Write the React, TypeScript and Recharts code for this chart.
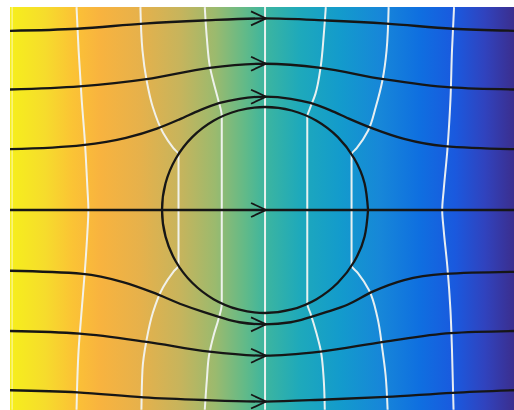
import React from 'react';
import { ComposedChart, Line, XAxis, YAxis, ReferenceArea } from 'recharts';

// plot window (cylinder radius = 1)
const X_MIN = -2.476;
const X_MAX = 2.417;
const Y_MIN = -1.942;
const Y_MAX = 1.971;

// streamlines, top to bottom
const stream1 = [
  { x: -2.48, y: 1.74 }, { x: -1.82, y: 1.76 }, { x: -1.18, y: 1.81 }, { x: -0.6, y: 1.84 },
  { x: 0, y: 1.86 }, { x: 0.6, y: 1.84 }, { x: 1.18, y: 1.81 }, { x: 1.82, y: 1.76 }, { x: 2.42, y: 1.74 },
];
const stream2 = [
  { x: -2.48, y: 1.17 }, { x: -1.8, y: 1.2 }, { x: -1.15, y: 1.27 }, { x: -0.54, y: 1.38 },
  { x: 0, y: 1.42 }, { x: 0.54, y: 1.38 }, { x: 1.15, y: 1.27 }, { x: 1.8, y: 1.19 }, { x: 2.42, y: 1.17 },
];
const stream3 = [
  { x: -2.48, y: 0.59 }, { x: -1.77, y: 0.63 }, { x: -1.35, y: 0.7 }, { x: -1.05, y: 0.79 },
  { x: -0.83, y: 0.88 }, { x: -0.63, y: 0.97 }, { x: -0.44, y: 1.04 }, { x: -0.25, y: 1.08 },
  { x: 0, y: 1.1 }, { x: 0.25, y: 1.08 }, { x: 0.44, y: 1.04 }, { x: 0.63, y: 0.97 },
  { x: 0.83, y: 0.88 }, { x: 1.05, y: 0.79 }, { x: 1.35, y: 0.69 }, { x: 1.74, y: 0.62 }, { x: 2.42, y: 0.59 },
];
const stream4 = [{ x: -2.48, y: 0 }, { x: 0, y: 0 }, { x: 2.42, y: 0 }];
const stream5 = [
  { x: -2.48, y: -0.59 }, { x: -1.77, y: -0.62 }, { x: -1.38, y: -0.7 }, { x: -1.09, y: -0.8 },
  { x: -0.8, y: -0.92 }, { x: -0.6, y: -0.99 }, { x: -0.44, y: -1.04 }, { x: -0.25, y: -1.09 },
  { x: 0, y: -1.11 }, { x: 0.25, y: -1.09 }, { x: 0.44, y: -1.04 }, { x: 0.6, y: -0.99 },
  { x: 0.8, y: -0.92 }, { x: 1.05, y: -0.79 }, { x: 1.35, y: -0.68 }, { x: 1.74, y: -0.62 }, { x: 2.42, y: -0.6 },
];
const stream6 = [
  { x: -2.48, y: -1.175 }, { x: -1.8, y: -1.2 }, { x: -1.15, y: -1.28 }, { x: -0.54, y: -1.375 },
  { x: 0, y: -1.415 }, { x: 0.54, y: -1.375 }, { x: 1.15, y: -1.28 }, { x: 1.8, y: -1.195 }, { x: 2.42, y: -1.175 },
];
const stream7 = [
  { x: -2.48, y: -1.75 }, { x: -1.82, y: -1.77 }, { x: -1.18, y: -1.82 }, { x: -0.6, y: -1.845 },
  { x: 0, y: -1.86 }, { x: 0.6, y: -1.84 }, { x: 1.18, y: -1.815 }, { x: 1.82, y: -1.775 }, { x: 2.42, y: -1.75 },
];

// cylinder outline
const cylinder = [
  { x: 1, y: 0 }, { x: 0.966, y: 0.259 }, { x: 0.866, y: 0.5 }, { x: 0.707, y: 0.707 },
  { x: 0.5, y: 0.866 }, { x: 0.259, y: 0.966 }, { x: 0, y: 1 }, { x: -0.259, y: 0.966 },
  { x: -0.5, y: 0.866 }, { x: -0.707, y: 0.707 }, { x: -0.866, y: 0.5 }, { x: -0.966, y: 0.259 },
  { x: -1, y: 0 }, { x: -0.966, y: -0.259 }, { x: -0.866, y: -0.5 }, { x: -0.707, y: -0.707 },
  { x: -0.5, y: -0.866 }, { x: -0.259, y: -0.966 }, { x: 0, y: -1 }, { x: 0.259, y: -0.966 },
  { x: 0.5, y: -0.866 }, { x: 0.707, y: -0.707 }, { x: 0.866, y: -0.5 }, { x: 0.966, y: -0.259 },
  { x: 1, y: 0 },
];

// equipotential lines, left to right (each listed top to bottom)
const potEdge = [{ x: -2.455, y: 1.97 }, { x: -2.455, y: -1.94 }];
const potA = [
  { x: -1.83, y: 1.97 }, { x: -1.81, y: 1.55 }, { x: -1.78, y: 1.07 }, { x: -1.75, y: 0.68 },
  { x: -1.725, y: 0.22 }, { x: -1.715, y: 0 }, { x: -1.725, y: -0.22 }, { x: -1.75, y: -0.6 },
  { x: -1.78, y: -0.97 }, { x: -1.81, y: -1.36 }, { x: -1.83, y: -1.94 },
];
const potB = [
  { x: -1.21, y: 1.97 }, { x: -1.19, y: 1.55 }, { x: -1.15, y: 1.26 }, { x: -1.09, y: 1.0 },
  { x: -0.99, y: 0.75 }, { x: -0.89, y: 0.6 }, { x: -0.84, y: 0.54 }, { x: -0.84, y: -0.54 },
  { x: -0.89, y: -0.6 }, { x: -0.99, y: -0.75 }, { x: -1.09, y: -1.0 }, { x: -1.15, y: -1.26 },
  { x: -1.19, y: -1.55 }, { x: -1.2, y: -1.94 },
];
const potC = [
  { x: -0.585, y: 1.97 }, { x: -0.565, y: 1.67 }, { x: -0.535, y: 1.39 }, { x: -0.5, y: 1.24 },
  { x: -0.455, y: 1.07 }, { x: -0.42, y: 0.91 }, { x: -0.42, y: -0.91 }, { x: -0.455, y: -1.07 },
  { x: -0.5, y: -1.22 }, { x: -0.545, y: -1.42 }, { x: -0.565, y: -1.65 }, { x: -0.585, y: -1.94 },
];
const potD = [{ x: 0, y: 1.97 }, { x: 0, y: -1.94 }];
const potE = [
  { x: 0.59, y: 1.97 }, { x: 0.57, y: 1.7 }, { x: 0.54, y: 1.39 }, { x: 0.49, y: 1.13 },
  { x: 0.43, y: 0.97 }, { x: 0.41, y: 0.91 }, { x: 0.41, y: -0.91 }, { x: 0.44, y: -1.0 },
  { x: 0.5, y: -1.2 }, { x: 0.54, y: -1.36 }, { x: 0.57, y: -1.65 }, { x: 0.58, y: -1.94 },
];
const potF = [
  { x: 1.2, y: 1.97 }, { x: 1.18, y: 1.55 }, { x: 1.14, y: 1.26 }, { x: 1.075, y: 1.0 },
  { x: 1.0, y: 0.77 }, { x: 0.89, y: 0.6 }, { x: 0.84, y: 0.54 }, { x: 0.84, y: -0.54 },
  { x: 0.9, y: -0.61 }, { x: 1.01, y: -0.78 }, { x: 1.09, y: -1.04 }, { x: 1.14, y: -1.36 },
  { x: 1.17, y: -1.6 }, { x: 1.19, y: -1.94 },
];
const potG = [
  { x: 1.835, y: 1.97 }, { x: 1.815, y: 1.55 }, { x: 1.8, y: 1.07 }, { x: 1.77, y: 0.58 },
  { x: 1.735, y: 0.2 }, { x: 1.72, y: 0 }, { x: 1.735, y: -0.2 }, { x: 1.77, y: -0.55 },
  { x: 1.8, y: -0.97 }, { x: 1.815, y: -1.36 }, { x: 1.83, y: -1.94 },
];

const streams = [stream1, stream2, stream3, stream4, stream5, stream6, stream7];
const potentials = [potA, potB, potC, potD, potE, potF, potG];

const INK = '#161616';

const ArrowDot = (props: any) => {
  const { cx, cy, payload, index } = props;
  if (!payload || payload.x !== 0) return <g key={`n-${index}`} />;
  return (
    <path
      key={`a-${index}`}
      d={`M${cx - 14},${cy - 7} L${cx + 1},${cy} L${cx - 14},${cy + 7}`}
      stroke={INK}
      strokeWidth={1.8}
      fill="none"
    />
  );
};

const App: React.FC = () => {
  return (
    <div style={{ position: 'absolute', left: 0, top: 0, width: 514, height: 410, background: '#fff' }}>
      <ComposedChart width={514} height={410} margin={{ top: 7, right: 0, bottom: 0, left: 10 }}>
        <defs>
          <linearGradient id="flowBg" x1="0" y1="0" x2="1" y2="0">
            <stop offset="0" stopColor="#f6ef1c" />
            <stop offset="0.07" stopColor="#f6dc2c" />
            <stop offset="0.125" stopColor="#fbc335" />
            <stop offset="0.179" stopColor="#f8b33f" />
            <stop offset="0.258" stopColor="#e6b14b" />
            <stop offset="0.337" stopColor="#c7b45c" />
            <stop offset="0.407" stopColor="#9bba6e" />
            <stop offset="0.466" stopColor="#62ba88" />
            <stop offset="0.506" stopColor="#3db59f" />
            <stop offset="0.575" stopColor="#1ea9bb" />
            <stop offset="0.655" stopColor="#139bcc" />
            <stop offset="0.734" stopColor="#1787d8" />
            <stop offset="0.813" stopColor="#0f6fe0" />
            <stop offset="0.883" stopColor="#1a59de" />
            <stop offset="0.942" stopColor="#3043be" />
            <stop offset="1" stopColor="#3b2e8e" />
          </linearGradient>
        </defs>
        <XAxis type="number" dataKey="x" domain={[X_MIN, X_MAX]} allowDataOverflow hide />
        <YAxis type="number" dataKey="y" domain={[Y_MIN, Y_MAX]} allowDataOverflow hide />
        <ReferenceArea
          x1={X_MIN}
          x2={X_MAX}
          y1={Y_MIN}
          y2={Y_MAX}
          fill="url(#flowBg)"
          fillOpacity={1}
          stroke="none"
          ifOverflow="hidden"
        />
        <Line
          data={potEdge}
          dataKey="y"
          type="linear"
          stroke="#ffffff"
          strokeOpacity={0.45}
          strokeWidth={1.5}
          dot={false}
          activeDot={false}
          isAnimationActive={false}
        />
        {potentials.map((p, i) => (
          <Line
            key={`pot-${i}`}
            data={p}
            dataKey="y"
            type="monotoneY"
            stroke="#f2f4f2"
            strokeOpacity={0.95}
            strokeWidth={2}
            dot={false}
            activeDot={false}
            isAnimationActive={false}
          />
        ))}
        <Line
          data={cylinder}
          dataKey="y"
          type="natural"
          stroke={INK}
          strokeWidth={2.3}
          dot={false}
          activeDot={false}
          isAnimationActive={false}
        />
        {streams.map((s, i) => (
          <Line
            key={`stream-${i}`}
            data={s}
            dataKey="y"
            type="monotone"
            stroke={INK}
            strokeWidth={2.3}
            dot={ArrowDot}
            activeDot={false}
            isAnimationActive={false}
          />
        ))}
      </ComposedChart>
    </div>
  );
};

export default App;
